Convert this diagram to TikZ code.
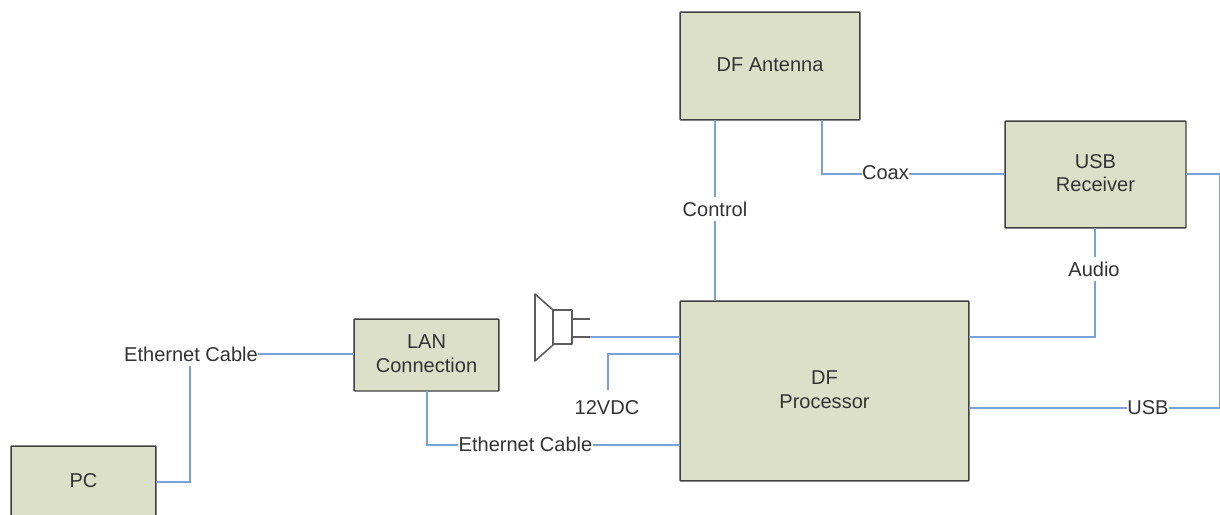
\documentclass[tikz,border=0pt]{standalone}
\usepackage{fontspec}
\setmainfont{Liberation Sans}
\usetikzlibrary{positioning}
\definecolor{boxfill}{RGB}{221,224,201}
\definecolor{boxline}{RGB}{64,64,64}
\definecolor{wireblue}{RGB}{124,160,216}
\definecolor{labeltext}{RGB}{51,51,51}
\tikzset{
  block/.style={draw=boxline,fill=boxfill,line width=0.85pt,text=labeltext,font=\fontsize{11.4pt}{13.5pt}\selectfont,align=center,outer sep=0pt,rounded corners=0.5pt,text depth=1.7pt},
  wire/.style={draw=wireblue,line width=1pt},
  wirelabel/.style={fill=white,text=labeltext,font=\fontsize{11.4pt}{13pt}\selectfont,inner xsep=0pt,inner ysep=2.5pt},
  speaker/.style={draw=boxline!85,line width=0.9pt,line join=round}
}
\begin{document}
\begin{tikzpicture}[x=0.02cm,y=-0.02cm]
  \path[use as bounding box,clip] (0,0) rectangle (1220,514);
  % blocks
  \node[block,minimum width=3.6cm,minimum height=2.16cm] (antenna) at (770,66) {DF Antenna};
  \node[block,minimum width=3.62cm,minimum height=2.14cm] (receiver) at (1095.5,174.5) {USB\\Receiver};
  \node[block,minimum width=5.78cm,minimum height=3.6cm] (processor) at (824.5,391) {DF\\Processor};
  \node[block,minimum width=2.9cm,minimum height=1.44cm] (lan) at (426.5,355) {LAN\\Connection};
  \node[block,minimum width=2.9cm,minimum height=1.44cm] (pc) at (83.5,482) {PC};
  % labels
  \node[wirelabel] (control) at (715,209) {Control};
  \node[wirelabel] (coax) at (885.5,173) {Coax};
  \node[wirelabel] (audio) at (1094,269) {Audio};
  \node[wirelabel] (usb) at (1148,408) {USB};
  \node[wirelabel] (dcin) at (607,408) {12VDC};
  \node[wirelabel] (netleft) at (191,354) {Ethernet Cable};
  \node[wirelabel] (netright) at (525.5,444) {Ethernet Cable};
  % corners and free ends
  \coordinate (coaxbend) at (822,174);
  \coordinate (audiobend) at (1095,337);
  \coordinate (usbbend) at (1220.35,408);
  \coordinate (dcbend) at (608,354);
  \coordinate (dcend) at (608,390);
  \coordinate (pcbend) at (190,482);
  \coordinate (lanbend) at (427,445);
  \coordinate (plug) at (590,337);
  % connectors
  \draw[wire] (antenna.south -| control) -- (control);
  \draw[wire] (control) -- (processor.north -| control);
  \draw[wire] (antenna.south -| coaxbend) -- (coaxbend) -- (coax.west |- coaxbend);
  \draw[wire] (coax.east |- coaxbend) -- (receiver.west |- coaxbend);
  \draw[wire] (receiver.east |- coaxbend) -- (usbbend |- coaxbend) -- (usbbend);
  \draw[wire] (receiver.south -| audiobend) -- (audio.north -| audiobend);
  \draw[wire] (audio.south -| audiobend) -- (audiobend) -- (processor.east |- audiobend);
  \draw[wire] (processor.east |- usb) -- (usb.west);
  \draw[wire] (usb.east) -- (usbbend);
  \draw[wire] (plug) -- (processor.west |- plug);
  \draw[wire] (processor.west |- dcbend) -- (dcbend) -- (dcend);
  \draw[wire] (pc.east |- pcbend) -- (pcbend) -- (netleft.south -| pcbend);
  \draw[wire] (netleft.east) -- (lan.west |- netleft);
  \draw[wire] (lan.south -| lanbend) -- (lanbend) -- (netright.west |- lanbend);
  \draw[wire] (netright.east |- lanbend) -- (processor.west |- lanbend);
  % speaker
  \draw[speaker] (535,294) -- (553,310) -- (553,345) -- (535,361) -- cycle;
  \draw[speaker] (553,310) rectangle (572,344);
  \draw[speaker] (572,319) -- (590,319);
  \draw[speaker] (572,337) -- (plug);
\end{tikzpicture}
\end{document}
